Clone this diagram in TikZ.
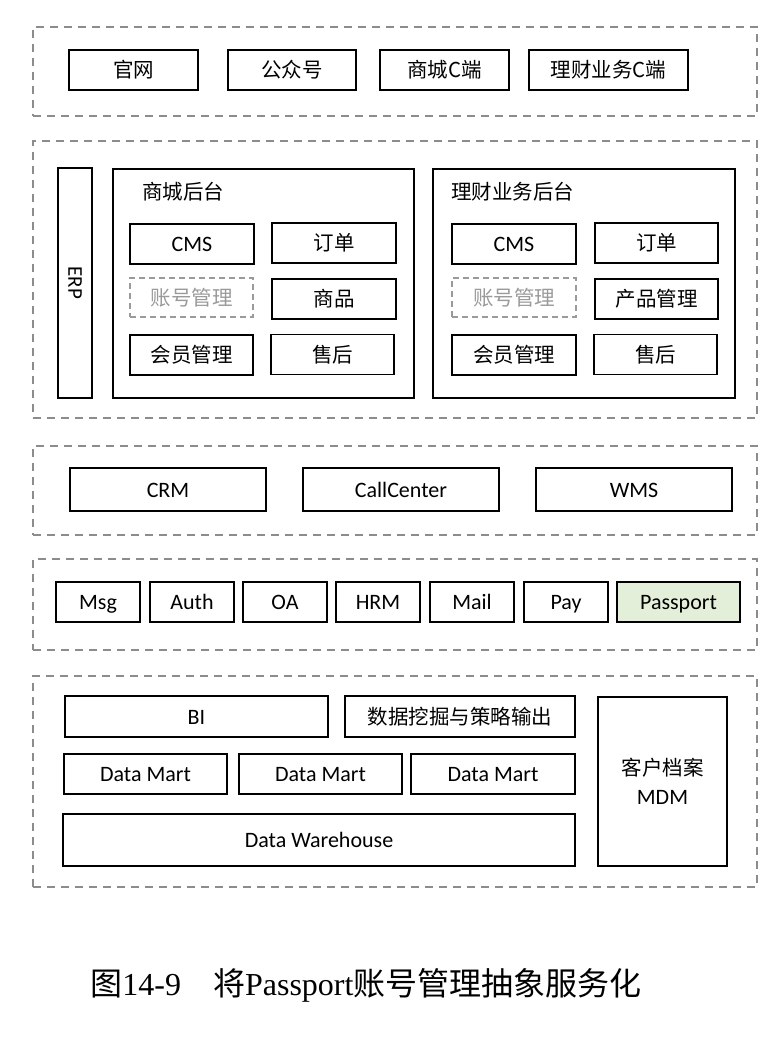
\documentclass[tikz,border=0pt]{standalone}
\usepackage{fontspec}
\setmainfont{Carlito}
\newfontfamily\cjk{Noto Sans CJK SC}
\newfontfamily\capserif{Liberation Serif}
\definecolor{layergray}{HTML}{8C8C8C}
\definecolor{passgreen}{HTML}{E3EFD9}
\definecolor{ghost}{HTML}{9A9A9A}
\begin{document}
\begin{tikzpicture}[x=1pt,y=-1pt,
  layer/.style={draw=layergray, line width=1.8pt, dash pattern=on 8pt off 6pt, inner sep=0pt},
  box/.style={draw=black, line width=1.7pt, inner sep=0pt, minimum height=40, text height=15pt, text depth=0pt, font=\fontsize{22}{26}\selectfont},
  cbox/.style={box, font=\fontsize{20.5}{24}\selectfont\cjk},
  ghostbox/.style={draw=ghost, line width=1.6pt, dash pattern=on 6pt off 4pt, inner sep=0pt, minimum height=39, text height=15pt, text depth=0pt, text=ghost, font=\fontsize{20.5}{24}\selectfont\cjk},
  frame/.style={draw=black, line width=1.5pt, inner sep=0pt},
  ttl/.style={anchor=west, inner sep=0pt, font=\fontsize{20.5}{24}\selectfont\cjk}]
\useasboundingbox[fill=white] (0,0) rectangle (776,1044);
% layers
\node[layer, minimum width=724, minimum height=89] (l1) at (395,71.5) {};
\node[layer, minimum width=724, minimum height=277] (l2) at (395,279.5) {};
\node[layer, minimum width=724, minimum height=89] (l3) at (395,490.5) {};
\node[layer, minimum width=724, minimum height=91] (l4) at (395,604.5) {};
\node[layer, minimum width=724, minimum height=211] (l5) at (395,781.5) {};
% layer 1
\node[cbox, minimum width=129] (gw) at (133.5,70) {官网};
\node[cbox, minimum width=128] (gzh) at (292,70) {公众号};
\node[cbox, minimum width=129] (scc) at (444.5,70) {商城C端};
\node[cbox, minimum width=159] (lcc) at (608.5,70) {理财业务C端};
% layer 2
\node[frame, minimum width=34, minimum height=230] (erp) at (75,283) {};
\node[rotate=-90, font=\fontsize{21}{24}\selectfont] (erpt) at (erp.center) {ERP};
\node[frame, minimum width=301, minimum height=229] (sc) at (263.5,283.5) {};
\node[ttl] (sct) at (142,192) {商城后台};
\node[box, minimum width=124] (cms1) at (192,244) {CMS};
\node[cbox, minimum width=124] (dd1) at (334,243) {订单};
\node[ghostbox, minimum width=123] (zh1) at (191.5,297.5) {账号管理};
\node[cbox, minimum width=124] (sp1) at (334,299) {商品};
\node[cbox, minimum width=123] (hy1) at (191.5,355) {会员管理};
\node[cbox, minimum width=123] (sh1) at (332.5,354.5) {售后};
\node[frame, minimum width=302, minimum height=229] (lc) at (584,283.5) {};
\node[ttl] (lct) at (451,192) {理财业务后台};
\node[box, minimum width=124] (cms2) at (514,244) {CMS};
\node[cbox, minimum width=123] (dd2) at (656.5,243) {订单};
\node[ghostbox, minimum width=124] (zh2) at (514,297.5) {账号管理};
\node[cbox, minimum width=123] (cp2) at (656.5,299) {产品管理};
\node[cbox, minimum width=124] (hy2) at (514,355) {会员管理};
\node[cbox, minimum width=123] (sh2) at (655.5,354.5) {售后};
% layer 3
\node[box, minimum width=196, minimum height=43] (crm) at (168,489.5) {CRM};
\node[box, minimum width=196, minimum height=43] (cc) at (401,489.5) {CallCenter};
\node[box, minimum width=196, minimum height=43] (wms) at (634,489.5) {WMS};
% layer 4
\node[box, minimum width=84] (msg) at (98,602) {Msg};
\node[box, minimum width=84] (auth) at (192,602) {Auth};
\node[box, minimum width=84] (oa) at (285,602) {OA};
\node[box, minimum width=84] (hrm) at (378,602) {HRM};
\node[box, minimum width=84] (mail) at (472,602) {Mail};
\node[box, minimum width=84] (pay) at (566,602) {Pay};
\node[box, fill=passgreen, minimum width=123] (pp) at (678.5,602) {Passport};
% layer 5
\node[box, minimum width=263, minimum height=41] (bi) at (196.5,716.5) {BI};
\node[cbox, minimum width=230, minimum height=41] (dm) at (460,716.5) {数据挖掘与策略输出};
\node[box, minimum width=163] (dm1) at (145.5,774) {Data Mart};
\node[box, minimum width=163] (dm2) at (320.5,774) {Data Mart};
\node[box, minimum width=164] (dm3) at (493,774) {Data Mart};
\node[box, minimum width=512, minimum height=52] (dw) at (319,840) {Data Warehouse};
\node[draw=black, line width=1.7pt, inner sep=0pt, minimum width=129, minimum height=169, font=\fontsize{22}{26}\selectfont, align=center] (mdm) at (662.5,781.5) {{\cjk\fontsize{20.5}{24}\selectfont 客户档案}\\[3pt]MDM};
% caption
\node[font=\fontsize{32}{36}\selectfont] (cap) at (366,985) {{\cjk 图}{\capserif 14-9}\hspace{32pt}{\cjk 将}{\capserif Passport}{\cjk 账号管理抽象服务化}};
\end{tikzpicture}
\end{document}
